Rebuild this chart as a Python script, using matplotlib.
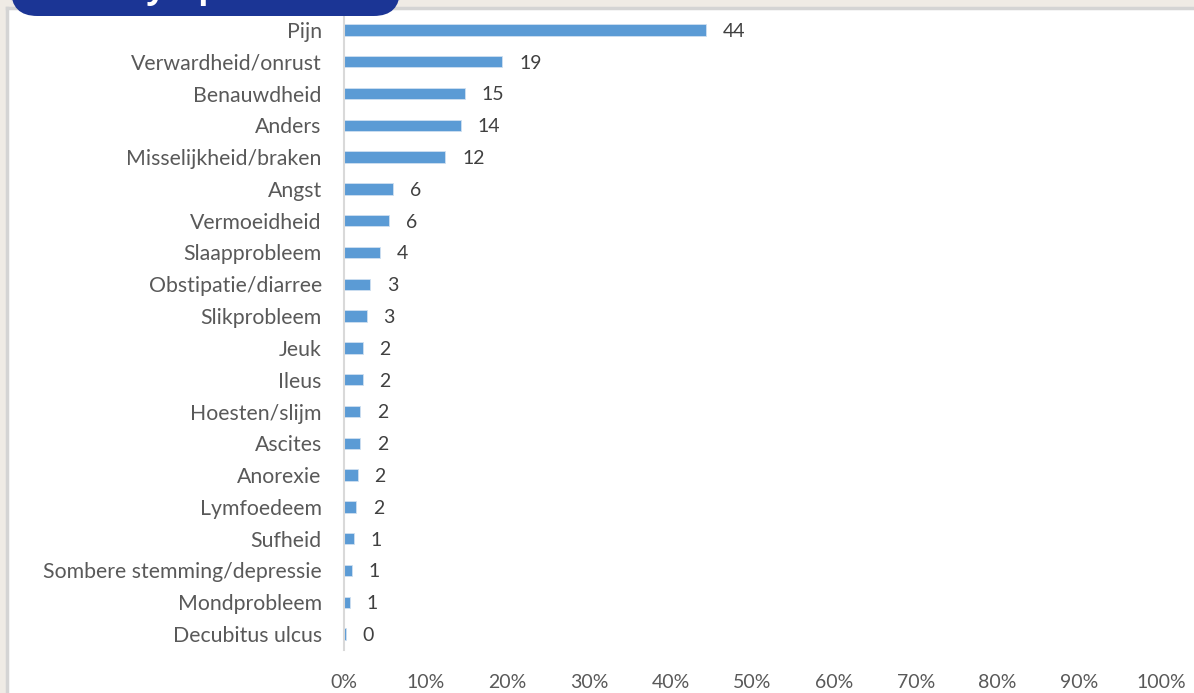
import matplotlib
matplotlib.use("Agg")
import matplotlib.pyplot as plt
from matplotlib.patches import Rectangle, FancyBboxPatch
from matplotlib.lines import Line2D
import numpy as np

# symptom categories, top to bottom
symptoms = ["Pijn", "Verwardheid/onrust", "Benauwdheid", "Anders",
            "Misselijkheid/braken", "Angst", "Vermoeidheid", "Slaapprobleem",
            "Obstipatie/diarree", "Slikprobleem", "Jeuk", "Ileus",
            "Hoesten/slijm", "Ascites", "Anorexie", "Lymfoedeem", "Sufheid",
            "Sombere stemming/depressie", "Mondprobleem", "Decubitus ulcus"]
# share of patients (%)
percent = [44.3, 19.4, 14.8, 14.3, 12.4, 6.0, 5.5, 4.4, 3.2, 2.8,
           2.3, 2.3, 2.0, 2.0, 1.7, 1.5, 1.2, 1.0, 0.7, 0.2]
xticks = [0, 10, 20, 30, 40, 50, 60, 70, 80, 90, 100]

W, H = 1194, 693
fig = plt.figure(figsize=(W / 100, H / 100), dpi=100)
fig.patch.set_facecolor("#efebe5")

# white chart panel with grey edge
fig.patches.append(Rectangle((8 / W, 0), 1, 1 - 9 / H, transform=fig.transFigure,
                             facecolor="white", edgecolor="none", zorder=-2))
fig.add_artist(Line2D([6.5 / W, 6.5 / W], [0, 1 - 8 / H], transform=fig.transFigure,
                      color="#d4d4d4", lw=2.5, zorder=-1))
fig.add_artist(Line2D([6.5 / W, 1], [1 - 8 / H, 1 - 8 / H], transform=fig.transFigure,
                      color="#d4d4d4", lw=2.5, zorder=-1))

# title tab
fig.patches.append(FancyBboxPatch((11 / W, 1 - 16 / H), 389 / W, 40 / H,
                                  boxstyle="round,pad=0,rounding_size=0.022",
                                  transform=fig.transFigure, facecolor="#1b3595",
                                  edgecolor="none", zorder=5,
                                  mutation_aspect=W / H))
fig.text(128 / W, 1 + 2 / H, "Symptomen", color="white", fontsize=24,
         fontweight="bold", family="Open Sans", va="baseline", zorder=6)

ax = fig.add_axes([344 / W, 1 - 650 / H, (1161 - 344) / W, (650 - 14) / H])
ax.set_facecolor("none")
y = np.arange(len(symptoms))
ax.barh(y, percent, height=0.36, color="#5b9bd5", edgecolor="#cfe0f1", linewidth=0.6)
for yi, v in zip(y, percent):
    ax.annotate(f"{v:.0f}", (v, yi), xytext=(12, -1), textcoords="offset points",
                va="center", ha="left", fontsize=14, color="#404040", family="Lato")

ax.set_xlim(0, 100)
ax.set_ylim(len(symptoms) - 0.5, -0.5)
ax.set_yticks(y)
ax.set_yticklabels(symptoms, fontsize=15.3, color="#595959", family="Lato")
ax.set_xticks(xticks)
ax.set_xticklabels([f"{t}%" for t in xticks], fontsize=14, color="#595959",
                   family="Lato")
ax.tick_params(axis="both", length=0)
ax.tick_params(axis="x", pad=17)
ax.tick_params(axis="y", pad=16)
for s in ["top", "right", "bottom"]:
    ax.spines[s].set_visible(False)
ax.spines["left"].set_color("#d9d9d9")
ax.spines["left"].set_linewidth(1.5)

fig.savefig("out.png", dpi=100, facecolor=fig.get_facecolor())
